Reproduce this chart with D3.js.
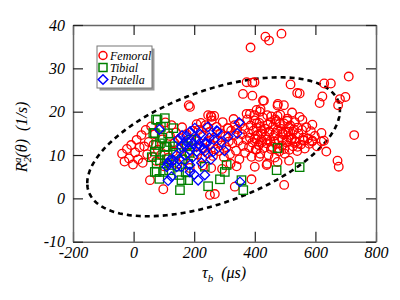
<!DOCTYPE html>
<html lang="en">
<head>
<meta charset="utf-8">
<script src="https://d3js.org/d3.v7.min.js"></script>
<style>
  body { margin: 0; background: #fff; }
  text { font-family: "Liberation Serif", "DejaVu Serif", serif; font-style: italic; }
</style>
</head>
<body>
<script>
// tau_b (us), R2a (1/s)
var femoral = [
  [386,34.8],[435,37.3],[447,36.4],[488,38.0],
  [373,26.8],[399,26.8],[392,26.7],[518,26.3],[540,24.3],[361,24.1],[392,23.7],[427,22.6],[476,21.8],[496,21.5],
  [710,28.1],[629,26.5],[651,26.5],[623,23.5],[699,23.4],[614,22.0],[681,22.9],[675,21.5],[548,24.2],
  [430,22.5],[475,21.4],[441,19.2],[475,19.0],[468,18.2],[507,17.9],[419,20.6],[406,17.3],[419,16.5],
  [452,17.6],[483,17.3],[513,16.4],[541,16.3],[526,15.4],[510,15.4],[491,15.1],[469,15.1],[447,15.4],
  [425,15.5],[409,14.6],[406,13.6],[422,13.5],[441,13.6],[464,13.1],[491,13.5],[505,13.5],[532,13.1],
  [563,13.3],[589,13.1],[414,12.3],[406,11.3],[453,11.4],[480,11.5],[497,11.4],[414,9.6],[513,8.7],
  [441,8.0],[475,8.4],[497,3.1],[400,7.3],
  [557,18.1],[559,13.5],[541,11.9],[523,13.8],[590,13.3],[620,15.1],[620,13.1],[628,13.3],[636,10.8],
  [728,14.6],[673,8.7],[677,7.3],
  [352,17.2],[358,14.8],[361,12.1],[365,16.0],[368,10.5],[372,13.5],[375,18.2],[378,15.1],[381,11.8],
  [384,14.0],[386,16.8],[389,9.6],[392,12.9],[395,15.6],[398,18.0],[401,13.8],[403,11.2],[406,16.3],
  [409,14.6],[412,12.3],[415,17.4],[418,10.3],[421,15.0],[424,13.0],[427,18.6],[430,11.6],[433,16.1],
  [436,14.2],[439,12.7],[442,17.0],[445,10.0],[448,15.3],[451,13.2],[454,18.9],[457,11.9],[460,16.6],
  [463,14.4],[466,9.4],[469,12.6],[472,17.8],[475,15.7],[478,13.6],[481,10.8],[484,19.3],[487,16.0],
  [490,12.2],[493,14.8],[496,17.3],[499,10.3],[502,15.2],[505,12.9],[508,18.4],[511,14.1],[514,11.2],
  [517,16.8],[520,13.5],[523,19.8],[526,12.0],[529,15.9],[532,17.6],[536,13.0],[540,10.9],[544,15.0],
  [548,18.8],[552,12.4],[556,15.8],[560,14.0],[565,11.5],[570,16.4],[575,13.8],[580,12.6],[585,15.5],
  [590,17.0],[598,14.4],[605,12.0],
  [205,13.2],[210,10.1],[214,15.8],[218,12.0],[222,17.4],[226,9.2],[230,14.5],[234,11.6],[238,16.9],
  [242,13.0],[246,10.4],[250,15.3],[254,12.5],[258,18.0],[262,9.8],[266,14.0],[270,11.3],[274,16.5],
  [278,13.4],[282,10.9],[286,15.0],[290,12.2],[294,17.6],[298,9.5],[302,14.3],[306,11.8],[310,16.2],
  [314,13.1],[318,10.2],[322,15.6],[326,12.7],[330,18.3],[334,14.6],[338,11.0],[342,16.0],[346,13.3],
  [349,9.0],[228,7.6],[256,7.0],[292,6.8],[320,8.0],[340,7.4],
  [-38,10.3],[-30,8.5],[-22,11.4],[-15,9.2],[-8,12.3],[-2,7.8],[5,10.6],[10,13.5],[15,9.0],[20,11.8],
  [26,14.6],[30,8.2],[35,12.0],[40,15.8],[45,10.2],[50,13.0],[54,4.2],[58,16.6],[62,9.6],[66,12.4],
  [70,14.8],[75,8.6],[80,11.2],[85,16.0],[90,10.0],[95,13.6],[98,2.1],[100,7.4],[105,17.5],[110,12.0],
  [115,9.4],[120,14.4],[125,16.9],[130,10.8],[135,12.8],[140,15.2],[145,8.0],[150,11.5],[155,13.9],
  [160,16.4],[165,9.0],[170,12.2],[175,14.8],[180,10.4],[185,7.0],[190,13.2],[195,15.6],[182,21.5],[186,21.1],
  [389,4.4],[268,1.0],[252,0.8],[334,2.7],[439,7.7],
  [246,19.2],[257,18.8],[384,19.5],[417,20.0],[255,19.0],[266,19.0],[373,19.5],[398,19.2],[406,20.4],
  [241,16.3],[312,16.2],[334,16.9],[208,17.1]
];

var tibial = [
  [103,18.5],[79,18.1],[74,18.2],[131,16.2],[70,15.0],[65,15.1],[114,15.0],[74,12.3],[103,11.9],[109,11.9],
  [87,12.7],[70,10.8],[103,10.0],[87,8.8],[125,7.7],[76,8.1],[70,6.1],[76,6.1],[98,6.1],[117,6.5],
  [153,1.9],[180,4.2],[158,4.2],[150,5.4],[246,2.8],[285,4.4],[307,7.7],[301,6.1],[356,4.2],[362,1.9],
  [235,7.3],[475,11.6],[472,6.5],[548,7.2],[95,14.0],[120,13.0],[140,10.5],[60,9.5],[85,4.5],[130,12.0],
  [90,16.5],[110,9.0],[160,9.0],[175,12.0],[185,10.5],[180,8.0],[190,13.5],[172,6.0]
];

var patella = [
  [85,15.9],[186,15.4],[202,16.2],[274,15.6],[348,17.5],[342,15.0],[312,14.2],[147,13.6],[197,12.7],
  [241,12.7],[263,10.8],[208,10.8],[142,10.0],[120,8.8],[109,7.3],[158,7.3],[186,6.1],[213,4.2],
  [235,5.4],[114,4.1],[351,3.8],[277,15.5],[175,14.4],[208,13.8],[235,12.7],[235,10.8],[208,11.9],
  [186,11.1],[224,8.2],[186,7.7],[158,11.9],[131,8.8],[114,8.1],[142,7.3],[125,5.0],[165,12.5],
  [170,10.0],[195,9.5],[220,14.8],[250,14.0],[255,9.0],[290,13.0],[300,11.0],[160,14.5],[180,13.0],
  [230,11.5],[245,16.5],[150,9.0],[200,5.5],[265,13.5],[215,12.5]
];

var seriesNames = ["Femoral", "Tibial", "Patella"];
var xTicks = [-200, 0, 200, 400, 600, 800];
var yTicks = [-10, 0, 10, 20, 30, 40];

// dashed ellipse: centre and two conjugate half-axes, in data units
var ellCenter = [264, 11.9];
var ellU = [-417, -8.4];
var ellV = [0, 13.65];

var width = 400, height = 300;
var mLeft = 73, mRight = 376, mTop = 25, mBottom = 241.7;

var x = d3.scaleLinear().domain([-200, 800]).range([mLeft, mRight]);
var y = d3.scaleLinear().domain([-10, 40]).range([mBottom, mTop]);

var svg = d3.select("body").append("svg")
  .attr("width", width)
  .attr("height", height);

// ellipse
var ts = d3.range(0, 361, 2).map(function(d) { return d * Math.PI / 180; });
var ell = ts.map(function(t) {
  return [ellCenter[0] + ellU[0] * Math.cos(t) + ellV[0] * Math.sin(t),
          ellCenter[1] + ellU[1] * Math.cos(t) + ellV[1] * Math.sin(t)];
});
svg.append("path")
  .datum(ell)
  .attr("d", d3.line().x(function(d) { return x(d[0]); }).y(function(d) { return y(d[1]); }))
  .attr("fill", "none")
  .attr("stroke", "#000")
  .attr("stroke-width", 2.6)
  .attr("stroke-dasharray", "5,4");

// points
var r = 4.3;
svg.append("g").selectAll("circle")
  .data(femoral).enter().append("circle")
  .attr("cx", function(d) { return x(d[0]); })
  .attr("cy", function(d) { return y(d[1]); })
  .attr("r", r)
  .attr("fill", "none")
  .attr("stroke", "#ff0000")
  .attr("stroke-width", 1.3);

svg.append("g").selectAll("rect")
  .data(tibial).enter().append("rect")
  .attr("x", function(d) { return x(d[0]) - 4.2; })
  .attr("y", function(d) { return y(d[1]) - 4.2; })
  .attr("width", 8.4)
  .attr("height", 8.4)
  .attr("fill", "none")
  .attr("stroke", "#008000")
  .attr("stroke-width", 1.3);

var diamond = "M0,-4.8L4.8,0L0,4.8L-4.8,0Z";
svg.append("g").selectAll("path")
  .data(patella).enter().append("path")
  .attr("d", diamond)
  .attr("transform", function(d) { return "translate(" + x(d[0]) + "," + y(d[1]) + ")"; })
  .attr("fill", "none")
  .attr("stroke", "#0000ff")
  .attr("stroke-width", 1.3);

// frame + axes, ticks pointing inward
function styleAxis(g) {
  g.select(".domain").attr("stroke", "#666").attr("stroke-width", 1.5);
  g.selectAll(".tick line").attr("stroke", "#222").attr("stroke-width", 1.2);
  g.selectAll("text").attr("fill", "#000").attr("font-size", 16)
    .attr("font-family", "Liberation Serif, serif").attr("font-style", "italic");
}
var plain = function(d) { return String(d); };

svg.append("g")
  .attr("transform", "translate(0," + mBottom + ")")
  .call(d3.axisBottom(x).tickValues(xTicks).tickFormat(plain).tickSize(-10).tickPadding(5).tickSizeOuter(0))
  .call(styleAxis);

svg.append("g")
  .attr("transform", "translate(0," + mTop + ")")
  .call(d3.axisTop(x).tickValues(xTicks).tickSize(-10).tickFormat("").tickSizeOuter(0))
  .call(styleAxis);

svg.append("g")
  .attr("transform", "translate(" + mLeft + ",0)")
  .call(d3.axisLeft(y).tickValues(yTicks).tickFormat(plain).tickSize(-10).tickPadding(8).tickSizeOuter(0))
  .call(styleAxis);

svg.append("g")
  .attr("transform", "translate(" + mRight + ",0)")
  .call(d3.axisRight(y).tickValues(yTicks).tickSize(-10).tickFormat("").tickSizeOuter(0))
  .call(styleAxis);

// axis titles
var xt = svg.append("text")
  .attr("x", 224).attr("y", 278)
  .attr("text-anchor", "middle")
  .attr("font-size", 16);
xt.append("tspan").text("τ");
xt.append("tspan").attr("font-size", 11).attr("dy", 4).text("b");
xt.append("tspan").attr("dy", -4).text("\u00a0\u00a0(μs)");

var yt = svg.append("text")
  .attr("transform", "translate(27,137) rotate(-90)")
  .attr("text-anchor", "middle")
  .attr("font-size", 16);
yt.append("tspan").text("R");
yt.append("tspan").attr("font-size", 11).attr("dy", 4).text("2");
yt.append("tspan").attr("font-size", 11).attr("dy", -10).attr("dx", -6).text("a");
yt.append("tspan").attr("dy", 6).text("(θ)\u00a0\u00a0(1/s)");

// legend
var lg = svg.append("g").attr("transform", "translate(97,46)");
lg.append("rect").attr("x", 2.5).attr("y", 2.5).attr("width", 55).attr("height", 42).attr("fill", "#999");
lg.append("rect").attr("width", 55).attr("height", 42).attr("fill", "#fff").attr("stroke", "#777").attr("stroke-width", 1);
var colors = ["#ff0000", "#008000", "#0000ff"];
seriesNames.forEach(function(name, i) {
  var cy = 9.5 + i * 12;
  if (i === 0) {
    lg.append("circle").attr("cx", 6).attr("cy", cy).attr("r", 4).attr("fill", "none").attr("stroke", colors[i]).attr("stroke-width", 1.5);
  } else if (i === 1) {
    lg.append("rect").attr("x", 2).attr("y", cy - 4).attr("width", 8).attr("height", 8).attr("fill", "none").attr("stroke", colors[i]).attr("stroke-width", 1.5);
  } else {
    lg.append("path").attr("d", diamond).attr("transform", "translate(6," + cy + ")").attr("fill", "none").attr("stroke", colors[i]).attr("stroke-width", 1.5);
  }
  lg.append("text").attr("x", 13).attr("y", cy + 4).attr("font-size", 12).text(name);
});
</script>
</body>
</html>
